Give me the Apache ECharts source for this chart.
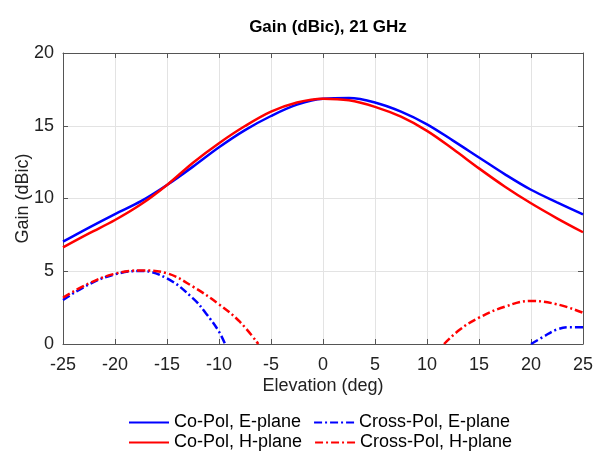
<html>
<head>
    <title>gain</title>
    <script src="https://cdn.jsdelivr.net/npm/echarts@6/dist/echarts.min.js"></script>
</head>
<body style="margin:0">
    <div id="chart" style="width:604px;height:453px;"></div>
    <script>
        // elevation angles for the co-pol cuts
        var xCo = [-25, -22.5, -20, -17.5, -15, -12.5, -10, -7.5, -5, -2.5, 0, 2.5, 5, 7.5, 10, 12.5, 15, 17.5, 20, 22.5, 25];
        var coE = [7.03, 8.0, 8.93, 9.82, 10.93, 12.19, 13.52, 14.7, 15.67, 16.45, 16.86, 16.9, 16.6, 15.97, 15.1, 13.98, 12.82, 11.66, 10.6, 9.74, 8.91];
        var coH = [6.64, 7.6, 8.52, 9.6, 10.93, 12.46, 13.8, 14.98, 15.97, 16.6, 16.86, 16.75, 16.3, 15.62, 14.65, 13.4, 12.07, 10.81, 9.67, 8.64, 7.68];

        // cross-pol, null = gap (below 0 dB, outside the axes)
        var xCrossE = [-25, -22.5, -20, -17.5, -15, -12.5, -11.25, -10, -9.42, 0, 20, 21.2, 22.5, 23.75, 25];
        var crossE = [3.02, 4.1, 4.79, 5.02, 4.51, 3.14, 2.1, 0.85, 0, null, 0, 0.5, 1.0, 1.15, 1.15];
        var xCrossH = [-25, -22.5, -20, -17.5, -15, -12.5, -10, -8, -6.22, 0, 11.64, 13.17, 15, 17.5, 20, 22.5, 25];
        var crossH = [3.18, 4.17, 4.83, 5.06, 4.86, 3.94, 2.73, 1.53, 0, null, 0, 1.0, 1.81, 2.57, 2.96, 2.73, 2.15];

        var xTicks = [-25, -20, -15, -10, -5, 0, 5, 10, 15, 20, 25];
        var yTicks = [0, 5, 10, 15, 20];

        function pairs(xs, ys) {
            return xs.map(function(x, i) {
                return ys[i] === null ? [x, '-'] : [x, ys[i]];
            });
        }

        var font = 'Liberation Sans, Arial, sans-serif';
        var axisColor = '#555';
        var dashDot = [8, 3, 2, 3];

        var chart = echarts.init(document.getElementById('chart'));
        var frameX = {
            type: 'value', min: xTicks[0], max: xTicks[xTicks.length - 1], interval: 5,
            position: 'top',
            axisLine: { show: true, onZero: false, lineStyle: { color: axisColor } },
            axisTick: { show: true, inside: true, length: 5, lineStyle: { color: axisColor } },
            axisLabel: { show: false },
            splitLine: { show: false }
        };
        var frameY = {
            type: 'value', min: yTicks[0], max: yTicks[yTicks.length - 1], interval: 5,
            position: 'right',
            axisLine: { show: true, onZero: false, lineStyle: { color: axisColor } },
            axisTick: { show: true, inside: true, length: 5, lineStyle: { color: axisColor } },
            axisLabel: { show: false },
            splitLine: { show: false }
        };
        var legendBase = {
            left: 128, padding: 0,
            itemWidth: 40, itemHeight: 12, itemGap: 12,
            itemStyle: { opacity: 0 },
            textStyle: { fontFamily: font, fontSize: 18, color: '#000' }
        };

        var option = {
            animation: false,
            backgroundColor: '#fff',
            title: {
                text: 'Gain (dBic), 21 GHz',
                left: 323,
                textAlign: 'center',
                top: 8,
                textStyle: { fontFamily: font, fontSize: 17, fontWeight: 'bold', color: '#000' }
            },
            grid: { left: 63, right: 21, top: 53, bottom: 109, outerBoundsMode: 'none' },
            legend: [
                Object.assign({ data: ['Co-Pol, E-plane', 'Cross-Pol, E-plane'], top: 407 }, legendBase),
                Object.assign({ data: ['Co-Pol, H-plane', 'Cross-Pol, H-plane'], top: 427 }, legendBase)
            ],
            xAxis: [{
                type: 'value', min: xTicks[0], max: xTicks[xTicks.length - 1], interval: 5,
                name: 'Elevation (deg)', nameLocation: 'middle', nameGap: 27, nameMoveOverlap: false,
                nameTextStyle: { fontFamily: font, fontSize: 18, color: '#222' },
                axisLine: { show: true, onZero: false, lineStyle: { color: axisColor } },
                axisTick: { show: true, inside: true, length: 5, lineStyle: { color: axisColor } },
                axisLabel: { fontFamily: font, fontSize: 18, color: '#222', margin: 6 },
                splitLine: { show: true, lineStyle: { color: '#e3e3e3' } }
            }, frameX],
            yAxis: [{
                type: 'value', min: yTicks[0], max: yTicks[yTicks.length - 1], interval: 5,
                name: 'Gain (dBic)', nameLocation: 'middle', nameGap: 24, nameMoveOverlap: false,
                nameTextStyle: { fontFamily: font, fontSize: 18, color: '#222' },
                axisLine: { show: true, onZero: false, lineStyle: { color: axisColor } },
                axisTick: { show: true, inside: true, length: 5, lineStyle: { color: axisColor } },
                axisLabel: { fontFamily: font, fontSize: 18, color: '#222', margin: 9 },
                splitLine: { show: true, lineStyle: { color: '#e3e3e3' } }
            }, frameY],
            series: [{
                name: 'Co-Pol, E-plane', type: 'line', data: pairs(xCo, coE),
                smooth: 0.35, symbol: 'none', clip: true,
                itemStyle: { color: '#0000ff' },
                lineStyle: { color: '#0000ff', width: 2.5 }
            }, {
                name: 'Cross-Pol, E-plane', type: 'line', data: pairs(xCrossE, crossE),
                smooth: 0.4, symbol: 'none', clip: true, connectNulls: false,
                itemStyle: { color: '#0000ff' },
                lineStyle: { color: '#0000ff', width: 2.5, type: dashDot }
            }, {
                name: 'Co-Pol, H-plane', type: 'line', data: pairs(xCo, coH),
                smooth: 0.35, symbol: 'none', clip: true,
                itemStyle: { color: '#ff0000' },
                lineStyle: { color: '#ff0000', width: 2.5 }
            }, {
                name: 'Cross-Pol, H-plane', type: 'line', data: pairs(xCrossH, crossH),
                smooth: 0.4, symbol: 'none', clip: true, connectNulls: false,
                itemStyle: { color: '#ff0000' },
                lineStyle: { color: '#ff0000', width: 2.5, type: dashDot }
            }]
        };
        chart.setOption(option);
    </script>
</body>
</html>
